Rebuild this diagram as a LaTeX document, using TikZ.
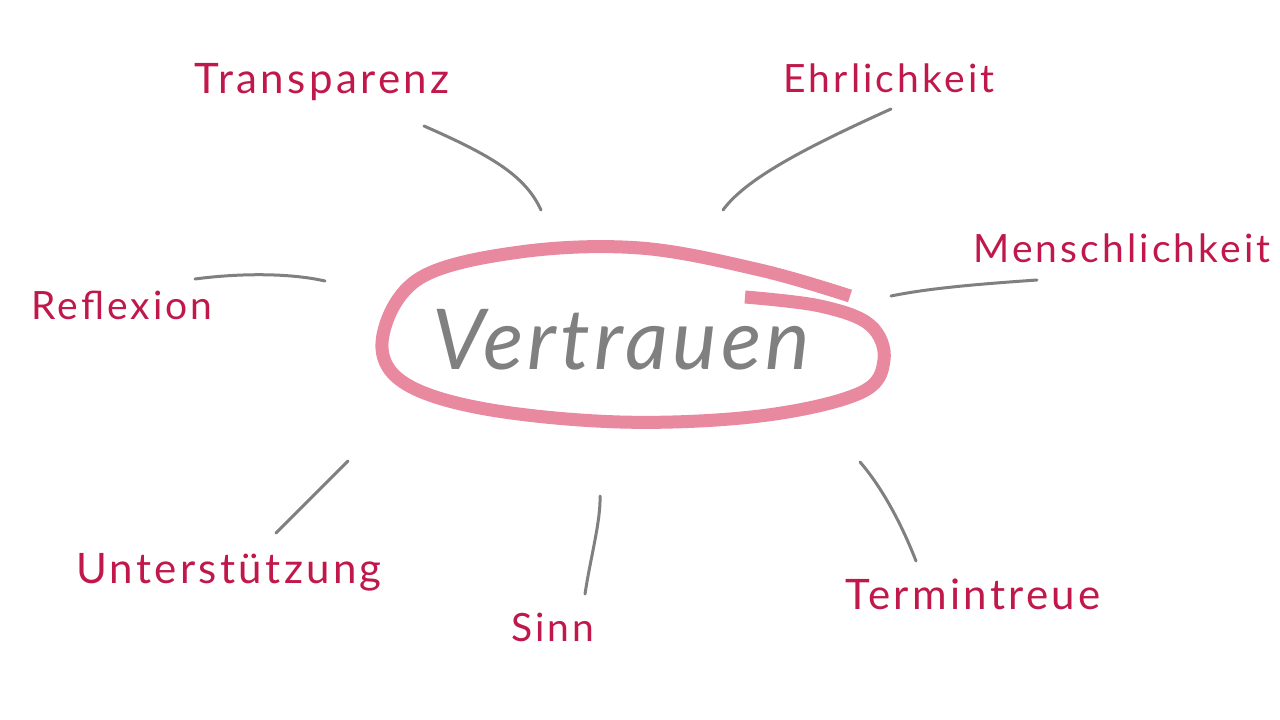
\documentclass[tikz,border=0pt]{standalone}
\usepackage{fontspec}
\setmainfont{Lato}
\newfontfamily\labfont[LetterSpace=8]{Lato}
\newfontfamily\midfont[LetterSpace=5]{Lato Italic}
\definecolor{lbl}{HTML}{C0184A}
\definecolor{ring}{HTML}{E8899F}
\definecolor{conn}{HTML}{808080}
\begin{document}
\begin{tikzpicture}[x=1pt,y=-1pt,
  lab/.style={text=lbl,font=\labfont\fontsize{42}{46}\selectfont,inner sep=0pt},
  labs/.style={text=lbl,font=\labfont\fontsize{39}{44}\selectfont,inner sep=0pt},
  con/.style={draw=conn,line width=3pt,line cap=round}]
\useasboundingbox[fill=white] (0,0) rectangle (1280,720);
% ring
\draw[ring,line width=13pt,line cap=butt] plot[smooth,tension=0.6] coordinates {(850,296) (760,270) (640,248) (520,252) (420,278) (383,335) (400,380) (480,408) (620,422) (760,416) (860,393) (884,360) (870,325) (820,306) (745,297)};
\node[text=conn,font=\midfont\fontsize{84}{90}\selectfont,inner sep=0pt] (v) at (621,340) {Vertrauen};
% labels
\node[lab] (t) at (322,82) {Transparenz};
\node[labs] (e) at (889,78) {Ehrlichkeit};
\node[labs] (m) at (1122,248) {Menschlichkeit};
\node[labs] (r) at (122,305) {Reflexion};
\node[lab] (u) at (229,572) {Unterstützung};
\node[labs] (s) at (553,627) {Sinn};
\node[lab] (tt) at (973,594) {Termintreue};
% connector end coordinates
\coordinate (t1) at (424,126); \coordinate (t2) at (541,210);
\coordinate (e1) at (891,109); \coordinate (e2) at (723,210);
\coordinate (m1) at (1037,280); \coordinate (m2) at (891,296);
\coordinate (r1) at (195,279); \coordinate (r2) at (325,281);
\coordinate (u1) at (348,461); \coordinate (u2) at (276,533);
\coordinate (s1) at (600,496); \coordinate (s2) at (585,594);
\coordinate (tt1) at (860,462); \coordinate (tt2) at (916,561);
\draw[con] (t1) .. controls (490,155) and (525,175) .. (t2);
\draw[con] (e1) .. controls (800,150) and (745,180) .. (e2);
\draw[con] (m1) .. controls (980,284) and (930,288) .. (m2);
\draw[con] (r1) .. controls (240,273) and (290,273) .. (r2);
\draw[con] (u1) -- (u2);
\draw[con] (s1) .. controls (601,520) and (590,560) .. (s2);
\draw[con] (tt1) .. controls (880,485) and (900,520) .. (tt2);
\end{tikzpicture}
\end{document}
